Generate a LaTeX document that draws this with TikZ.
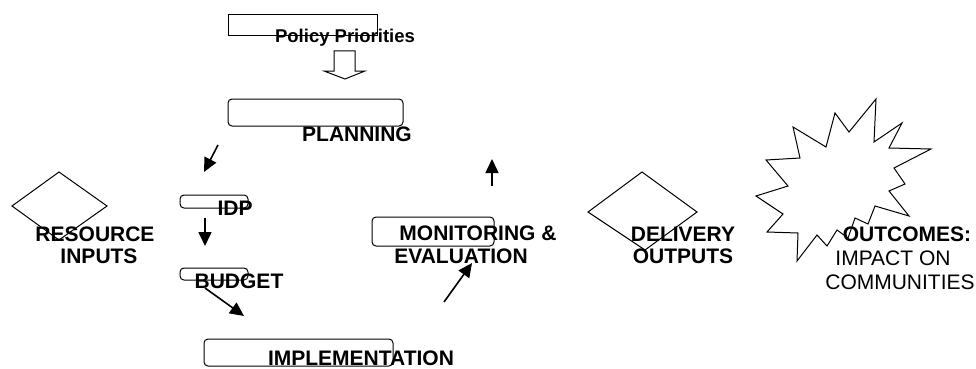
\documentclass[tikz,border=0pt]{standalone}
\usepackage{fontspec}
\setmainfont{Liberation Sans}
\usetikzlibrary{arrows.meta}
\tikzset{
  box/.style={draw, line width=1pt, inner sep=0pt},
  roundbox/.style={box, rounded corners=4pt},
  lbl/.style={inner sep=0pt, anchor=base, font=\fontsize{21}{24}\selectfont\bfseries},
  plainlbl/.style={inner sep=0pt, anchor=base, font=\fontsize{21}{24}\selectfont},
  arr/.style={line width=1.6pt, -{Triangle[length=14pt,width=13pt]}},
  outline/.style={line width=1pt, line join=miter}
}
\begin{document}
\begin{tikzpicture}[x=1pt, y=-1pt]
\useasboundingbox (0,0) rectangle (976,369);
\node[box, minimum width=149, minimum height=21] (policy) at (302.5,25.5) {}; % Policy
\node[lbl, font=\fontsize{18.5}{22}\selectfont\bfseries] (policyT) at (345,43) {Policy Priorities};
\draw[outline] (334,51) -- (355,51) -- (355,71) -- (365,71) -- (345,79) -- (324,71) -- (334,71) -- cycle; % block arrow
\node[roundbox, minimum width=175, minimum height=27] (planning) at (315.5,112.5) {}; % Planning
\node[lbl] (planningT) at (357,141) {PLANNING};
\node[roundbox, minimum width=68, minimum height=13] (idp) at (214,201.5) {}; % IDP
\node[lbl] (idpT) at (235,215) {IDP};
\node[roundbox, minimum width=68, minimum height=12] (budget) at (214,274) {}; % Budget
\node[lbl] (budgetT) at (239,288) {BUDGET};
\node[roundbox, minimum width=189, minimum height=27] (impl) at (298.5,352.5) {}; % Implementation
\node[lbl] (implT) at (361,365) {IMPLEMENTATION};
\node[roundbox, minimum width=122, minimum height=29] (monitor) at (433,231.5) {}; % Monitoring
\node[lbl] (monitorT) at (478,240) {MONITORING \&};
\node[lbl] (evalT) at (461,263) {EVALUATION};
\draw[outline] (59,172) -- (107,206) -- (59,240) -- (12,206) -- cycle; % resource diamond
\node[lbl] (resourceT) at (95,241) {RESOURCE};
\node[lbl] (inputsT) at (99,263) {INPUTS};
\draw[outline] (642,172) -- (697,212) -- (645,250) -- (588,212) -- cycle; % delivery diamond
\node[lbl] (deliveryT) at (683,241) {DELIVERY};
\node[lbl] (outputsT) at (683,263) {OUTPUTS};
\draw[outline] (793,127) -- (826,147) -- (835,113) -- (849,132) -- (876,99) -- (874,142)
  -- (902,123) -- (889,148) -- (931,149) -- (894,168) -- (905,184) -- (889,191)
  -- (909,216) -- (875,206) -- (868,224) -- (855,218) -- (848,238) -- (837,230)
  -- (827,246) -- (817,235) -- (797,261) -- (798,233) -- (767,232) -- (783,214)
  -- (756,196) -- (788,186) -- (766,160) -- (800,158) -- cycle; % explosion
\node[lbl] (outcomesT) at (907,241) {OUTCOMES:};
\node[plainlbl] (impactT) at (893,265) {IMPACT ON};
\node[plainlbl] (communT) at (900,289) {COMMUNITIES};
\coordinate (p2i s) at (218,145);
\coordinate (p2i e) at (204,172);
\coordinate (i2b s) at (205,218);
\coordinate (i2b e) at (205,246);
\coordinate (b2m s) at (205,288);
\coordinate (b2m e) at (244,316);
\coordinate (m2e s) at (444,302);
\coordinate (m2e e) at (472,263);
\coordinate (e2p s) at (492,186);
\coordinate (e2p e) at (492,159);
\draw[arr] (p2i s) -- (p2i e);
\draw[arr] (i2b s) -- (i2b e);
\draw[arr] (b2m s) -- (b2m e);
\draw[arr] (m2e s) -- (m2e e);
\draw[arr] (e2p s) -- (e2p e);
\end{tikzpicture}
\end{document}
